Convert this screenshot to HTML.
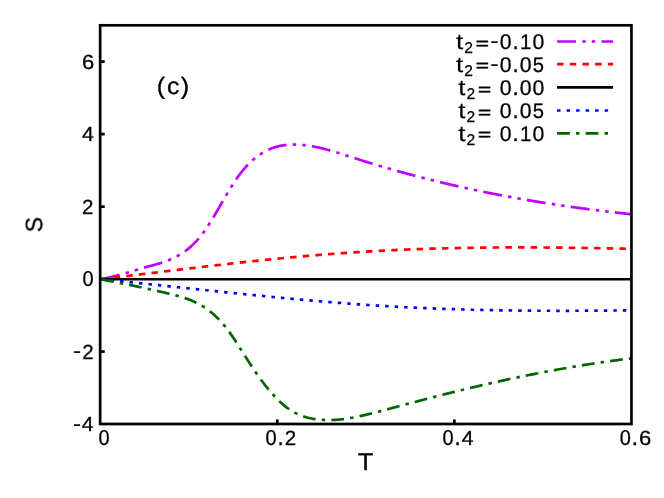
<!DOCTYPE html>
<html><head><meta charset="utf-8"><title>S vs T</title>
<style>
html,body{margin:0;padding:0;background:#fff;}
body{width:664px;height:498px;overflow:hidden;font-family:"Liberation Sans",sans-serif;}
svg{display:block}
text{font-family:"Liberation Sans",sans-serif;fill:#000;}
</style></head><body>
<svg width="664" height="498" viewBox="0 0 664 498">
<rect width="664" height="498" fill="#fff"/>

<g stroke="#000" stroke-width="2.7" fill="none">
<path d="M100.15,351.60 h4.6"/>
<path d="M100.15,279.20 h4.6"/>
<path d="M100.15,206.66 h4.6"/>
<path d="M100.15,134.11 h4.6"/>
<path d="M100.15,61.57 h4.6"/>
<path d="M277.25,424.0 v-4.6"/>
<path d="M454.35,424.0 v-4.6"/>
</g>
<g fill="none" stroke-width="2.7" stroke-linecap="butt" stroke-linejoin="round">
<path d="M100.15,279.20 L101.65,278.96 L103.15,278.70 L104.65,278.43 L106.15,278.13 L107.65,277.82 L109.15,277.50 L110.65,277.16 L112.15,276.80 L113.65,276.43 L115.15,276.05 L116.65,275.66 L118.15,275.26 L119.65,274.85 L121.15,274.43 L122.65,274.01 L124.15,273.58 L125.65,273.14 L127.15,272.70 L128.65,272.25 L130.15,271.80 L131.65,271.35 L133.15,270.90 L134.65,270.45 L136.15,270.01 L137.65,269.56 L139.15,269.12 L140.65,268.68 L142.15,268.24 L143.65,267.81 L145.15,267.39 L146.65,266.97 L148.15,266.56 L149.65,266.16 L151.15,265.75 L152.65,265.34 L154.15,264.93 L155.65,264.50 L157.15,264.07 L158.65,263.63 L160.15,263.17 L161.65,262.69 L163.15,262.20 L164.65,261.68 L166.15,261.14 L167.65,260.57 L169.15,259.98 L170.65,259.35 L172.15,258.69 L173.65,257.99 L175.15,257.25 L176.65,256.47 L178.15,255.64 L179.65,254.77 L181.15,253.86 L182.65,252.88 L184.15,251.86 L185.65,250.77 L187.15,249.63 L188.65,248.42 L190.15,247.14 L191.65,245.80 L193.15,244.38 L194.65,242.89 L196.15,241.32 L197.65,239.67 L199.15,237.93 L200.65,236.11 L202.15,234.20 L203.65,232.20 L205.15,230.10 L206.65,227.92 L208.15,225.66 L209.65,223.33 L211.15,220.94 L212.65,218.50 L214.15,216.01 L215.65,213.48 L217.15,210.92 L218.65,208.34 L220.15,205.75 L221.65,203.15 L223.15,200.56 L224.65,197.97 L226.15,195.41 L227.65,192.87 L229.15,190.37 L230.65,187.91 L232.15,185.50 L233.65,183.15 L235.15,180.86 L236.65,178.66 L238.15,176.53 L239.65,174.49 L241.15,172.54 L242.65,170.67 L244.15,168.87 L245.65,167.16 L247.15,165.53 L248.65,163.97 L250.15,162.48 L251.65,161.07 L253.15,159.72 L254.65,158.45 L256.15,157.25 L257.65,156.11 L259.15,155.04 L260.65,154.03 L262.15,153.08 L263.65,152.19 L265.15,151.36 L266.65,150.59 L268.15,149.87 L269.65,149.20 L271.15,148.59 L272.65,148.03 L274.15,147.52 L275.65,147.05 L277.15,146.63 L278.65,146.26 L280.15,145.92 L281.65,145.63 L283.15,145.38 L284.65,145.16 L286.15,144.98 L287.65,144.84 L289.15,144.73 L290.65,144.65 L292.15,144.60 L293.65,144.58 L295.15,144.59 L296.65,144.62 L298.15,144.67 L299.65,144.75 L301.15,144.86 L302.65,144.98 L304.15,145.13 L305.65,145.30 L307.15,145.49 L308.65,145.70 L310.15,145.93 L311.65,146.18 L313.15,146.45 L314.65,146.73 L316.15,147.03 L317.65,147.35 L319.15,147.68 L320.65,148.02 L322.15,148.38 L323.65,148.75 L325.15,149.14 L326.65,149.53 L328.15,149.94 L329.65,150.36 L331.15,150.78 L332.65,151.22 L334.15,151.66 L335.65,152.11 L337.15,152.57 L338.65,153.03 L340.15,153.50 L341.65,153.98 L343.15,154.45 L344.65,154.93 L346.15,155.42 L347.65,155.90 L349.15,156.39 L350.65,156.87 L352.15,157.36 L353.65,157.84 L355.15,158.33 L356.65,158.81 L358.15,159.29 L359.65,159.76 L361.15,160.24 L362.65,160.71 L364.15,161.18 L365.65,161.65 L367.15,162.11 L368.65,162.57 L370.15,163.04 L371.65,163.49 L373.15,163.95 L374.65,164.40 L376.15,164.86 L377.65,165.30 L379.15,165.75 L380.65,166.20 L382.15,166.64 L383.65,167.08 L385.15,167.52 L386.65,167.96 L388.15,168.39 L389.65,168.82 L391.15,169.25 L392.65,169.68 L394.15,170.10 L395.65,170.53 L397.15,170.95 L398.65,171.37 L400.15,171.79 L401.65,172.20 L403.15,172.61 L404.65,173.02 L406.15,173.43 L407.65,173.84 L409.15,174.24 L410.65,174.64 L412.15,175.04 L413.65,175.44 L415.15,175.84 L416.65,176.23 L418.15,176.62 L419.65,177.01 L421.15,177.40 L422.65,177.79 L424.15,178.17 L425.65,178.55 L427.15,178.93 L428.65,179.31 L430.15,179.69 L431.65,180.06 L433.15,180.43 L434.65,180.80 L436.15,181.17 L437.65,181.53 L439.15,181.90 L440.65,182.26 L442.15,182.62 L443.65,182.98 L445.15,183.33 L446.65,183.69 L448.15,184.04 L449.65,184.39 L451.15,184.74 L452.65,185.08 L454.15,185.43 L455.65,185.77 L457.15,186.11 L458.65,186.45 L460.15,186.78 L461.65,187.12 L463.15,187.45 L464.65,187.78 L466.15,188.11 L467.65,188.44 L469.15,188.76 L470.65,189.09 L472.15,189.41 L473.65,189.73 L475.15,190.05 L476.65,190.36 L478.15,190.68 L479.65,190.99 L481.15,191.30 L482.65,191.61 L484.15,191.92 L485.65,192.22 L487.15,192.52 L488.65,192.83 L490.15,193.13 L491.65,193.42 L493.15,193.72 L494.65,194.01 L496.15,194.31 L497.65,194.60 L499.15,194.89 L500.65,195.18 L502.15,195.46 L503.65,195.75 L505.15,196.03 L506.65,196.31 L508.15,196.59 L509.65,196.86 L511.15,197.14 L512.65,197.41 L514.15,197.69 L515.65,197.96 L517.15,198.23 L518.65,198.49 L520.15,198.76 L521.65,199.02 L523.15,199.28 L524.65,199.54 L526.15,199.80 L527.65,200.06 L529.15,200.32 L530.65,200.57 L532.15,200.82 L533.65,201.07 L535.15,201.32 L536.65,201.57 L538.15,201.82 L539.65,202.06 L541.15,202.30 L542.65,202.55 L544.15,202.79 L545.65,203.02 L547.15,203.26 L548.65,203.50 L550.15,203.73 L551.65,203.96 L553.15,204.19 L554.65,204.42 L556.15,204.65 L557.65,204.87 L559.15,205.10 L560.65,205.32 L562.15,205.54 L563.65,205.76 L565.15,205.98 L566.65,206.20 L568.15,206.41 L569.65,206.63 L571.15,206.84 L572.65,207.05 L574.15,207.26 L575.65,207.47 L577.15,207.68 L578.65,207.88 L580.15,208.08 L581.65,208.29 L583.15,208.49 L584.65,208.69 L586.15,208.89 L587.65,209.08 L589.15,209.28 L590.65,209.47 L592.15,209.67 L593.65,209.86 L595.15,210.05 L596.65,210.24 L598.15,210.42 L599.65,210.61 L601.15,210.79 L602.65,210.98 L604.15,211.16 L605.65,211.34 L607.15,211.52 L608.65,211.70 L610.15,211.87 L611.65,212.05 L613.15,212.22 L614.65,212.39 L616.15,212.57 L617.65,212.74 L619.15,212.90 L620.65,213.07 L622.15,213.24 L623.65,213.40 L625.15,213.57 L626.65,213.73 L628.15,213.89 L629.65,214.05 L631.15,214.21 L631.45,214.24" stroke="#bf00ff" stroke-dasharray="18.92,6.24,3.47,6.04,3.47,6.24" stroke-dashoffset="-1.0"/>
<path d="M100.15,279.20 L101.65,279.02 L103.15,278.85 L104.65,278.67 L106.15,278.50 L107.65,278.32 L109.15,278.14 L110.65,277.97 L112.15,277.79 L113.65,277.61 L115.15,277.43 L116.65,277.25 L118.15,277.07 L119.65,276.89 L121.15,276.71 L122.65,276.53 L124.15,276.35 L125.65,276.17 L127.15,275.99 L128.65,275.81 L130.15,275.63 L131.65,275.45 L133.15,275.27 L134.65,275.09 L136.15,274.91 L137.65,274.72 L139.15,274.54 L140.65,274.36 L142.15,274.18 L143.65,274.00 L145.15,273.81 L146.65,273.63 L148.15,273.45 L149.65,273.27 L151.15,273.08 L152.65,272.90 L154.15,272.72 L155.65,272.54 L157.15,272.35 L158.65,272.17 L160.15,271.99 L161.65,271.81 L163.15,271.62 L164.65,271.44 L166.15,271.26 L167.65,271.08 L169.15,270.89 L170.65,270.71 L172.15,270.53 L173.65,270.35 L175.15,270.17 L176.65,269.98 L178.15,269.80 L179.65,269.62 L181.15,269.44 L182.65,269.26 L184.15,269.08 L185.65,268.90 L187.15,268.72 L188.65,268.54 L190.15,268.36 L191.65,268.18 L193.15,268.00 L194.65,267.82 L196.15,267.64 L197.65,267.46 L199.15,267.28 L200.65,267.10 L202.15,266.93 L203.65,266.75 L205.15,266.57 L206.65,266.40 L208.15,266.22 L209.65,266.04 L211.15,265.87 L212.65,265.69 L214.15,265.52 L215.65,265.34 L217.15,265.17 L218.65,265.00 L220.15,264.82 L221.65,264.65 L223.15,264.48 L224.65,264.31 L226.15,264.14 L227.65,263.97 L229.15,263.80 L230.65,263.63 L232.15,263.46 L233.65,263.29 L235.15,263.12 L236.65,262.95 L238.15,262.79 L239.65,262.62 L241.15,262.45 L242.65,262.29 L244.15,262.13 L245.65,261.96 L247.15,261.80 L248.65,261.64 L250.15,261.47 L251.65,261.31 L253.15,261.15 L254.65,260.99 L256.15,260.83 L257.65,260.68 L259.15,260.52 L260.65,260.36 L262.15,260.21 L263.65,260.05 L265.15,259.90 L266.65,259.74 L268.15,259.59 L269.65,259.44 L271.15,259.29 L272.65,259.14 L274.15,258.99 L275.65,258.84 L277.15,258.69 L278.65,258.54 L280.15,258.40 L281.65,258.25 L283.15,258.11 L284.65,257.96 L286.15,257.82 L287.65,257.68 L289.15,257.54 L290.65,257.40 L292.15,257.26 L293.65,257.12 L295.15,256.99 L296.65,256.85 L298.15,256.71 L299.65,256.58 L301.15,256.45 L302.65,256.31 L304.15,256.18 L305.65,256.05 L307.15,255.92 L308.65,255.79 L310.15,255.67 L311.65,255.54 L313.15,255.41 L314.65,255.29 L316.15,255.16 L317.65,255.04 L319.15,254.92 L320.65,254.80 L322.15,254.68 L323.65,254.56 L325.15,254.44 L326.65,254.32 L328.15,254.21 L329.65,254.09 L331.15,253.98 L332.65,253.87 L334.15,253.75 L335.65,253.64 L337.15,253.53 L338.65,253.42 L340.15,253.32 L341.65,253.21 L343.15,253.10 L344.65,253.00 L346.15,252.89 L347.65,252.79 L349.15,252.69 L350.65,252.59 L352.15,252.49 L353.65,252.39 L355.15,252.29 L356.65,252.19 L358.15,252.10 L359.65,252.00 L361.15,251.91 L362.65,251.81 L364.15,251.72 L365.65,251.63 L367.15,251.54 L368.65,251.45 L370.15,251.37 L371.65,251.28 L373.15,251.19 L374.65,251.11 L376.15,251.03 L377.65,250.95 L379.15,250.86 L380.65,250.78 L382.15,250.71 L383.65,250.63 L385.15,250.55 L386.65,250.47 L388.15,250.40 L389.65,250.33 L391.15,250.25 L392.65,250.18 L394.15,250.11 L395.65,250.04 L397.15,249.97 L398.65,249.91 L400.15,249.84 L401.65,249.78 L403.15,249.71 L404.65,249.65 L406.15,249.59 L407.65,249.52 L409.15,249.46 L410.65,249.40 L412.15,249.35 L413.65,249.29 L415.15,249.23 L416.65,249.18 L418.15,249.12 L419.65,249.07 L421.15,249.02 L422.65,248.96 L424.15,248.91 L425.65,248.86 L427.15,248.82 L428.65,248.77 L430.15,248.72 L431.65,248.67 L433.15,248.63 L434.65,248.59 L436.15,248.54 L437.65,248.50 L439.15,248.46 L440.65,248.42 L442.15,248.38 L443.65,248.34 L445.15,248.30 L446.65,248.26 L448.15,248.23 L449.65,248.19 L451.15,248.16 L452.65,248.13 L454.15,248.09 L455.65,248.06 L457.15,248.03 L458.65,248.00 L460.15,247.97 L461.65,247.94 L463.15,247.91 L464.65,247.89 L466.15,247.86 L467.65,247.84 L469.15,247.81 L470.65,247.79 L472.15,247.77 L473.65,247.74 L475.15,247.72 L476.65,247.70 L478.15,247.68 L479.65,247.66 L481.15,247.64 L482.65,247.63 L484.15,247.61 L485.65,247.59 L487.15,247.58 L488.65,247.57 L490.15,247.55 L491.65,247.54 L493.15,247.53 L494.65,247.51 L496.15,247.50 L497.65,247.49 L499.15,247.48 L500.65,247.48 L502.15,247.47 L503.65,247.46 L505.15,247.45 L506.65,247.45 L508.15,247.44 L509.65,247.44 L511.15,247.44 L512.65,247.43 L514.15,247.43 L515.65,247.43 L517.15,247.43 L518.65,247.43 L520.15,247.43 L521.65,247.43 L523.15,247.43 L524.65,247.43 L526.15,247.43 L527.65,247.44 L529.15,247.44 L530.65,247.44 L532.15,247.45 L533.65,247.46 L535.15,247.46 L536.65,247.47 L538.15,247.48 L539.65,247.48 L541.15,247.49 L542.65,247.50 L544.15,247.51 L545.65,247.52 L547.15,247.53 L548.65,247.55 L550.15,247.56 L551.65,247.57 L553.15,247.58 L554.65,247.60 L556.15,247.61 L557.65,247.63 L559.15,247.64 L560.65,247.66 L562.15,247.67 L563.65,247.69 L565.15,247.71 L566.65,247.72 L568.15,247.74 L569.65,247.76 L571.15,247.78 L572.65,247.80 L574.15,247.82 L575.65,247.84 L577.15,247.86 L578.65,247.88 L580.15,247.91 L581.65,247.93 L583.15,247.95 L584.65,247.98 L586.15,248.00 L587.65,248.02 L589.15,248.05 L590.65,248.07 L592.15,248.10 L593.65,248.12 L595.15,248.15 L596.65,248.18 L598.15,248.20 L599.65,248.23 L601.15,248.26 L602.65,248.29 L604.15,248.32 L605.65,248.35 L607.15,248.38 L608.65,248.41 L610.15,248.44 L611.65,248.47 L613.15,248.50 L614.65,248.53 L616.15,248.56 L617.65,248.59 L619.15,248.62 L620.65,248.66 L622.15,248.69 L623.65,248.72 L625.15,248.76 L626.65,248.79 L628.15,248.82 L629.65,248.86 L631.15,248.89 L631.45,248.90" stroke="#ff0000" stroke-dasharray="6.49,6.19" stroke-dashoffset="-1.0"/>
<path d="M100.15,279.2 L631.45,279.2" stroke="#000000" stroke-width="2.45"/>
<path d="M100.15,279.20 L101.65,279.35 L103.15,279.50 L104.65,279.64 L106.15,279.79 L107.65,279.94 L109.15,280.09 L110.65,280.24 L112.15,280.39 L113.65,280.54 L115.15,280.69 L116.65,280.84 L118.15,280.99 L119.65,281.15 L121.15,281.30 L122.65,281.45 L124.15,281.60 L125.65,281.76 L127.15,281.91 L128.65,282.06 L130.15,282.22 L131.65,282.37 L133.15,282.53 L134.65,282.68 L136.15,282.84 L137.65,282.99 L139.15,283.15 L140.65,283.30 L142.15,283.46 L143.65,283.61 L145.15,283.77 L146.65,283.93 L148.15,284.08 L149.65,284.24 L151.15,284.40 L152.65,284.55 L154.15,284.71 L155.65,284.87 L157.15,285.03 L158.65,285.18 L160.15,285.34 L161.65,285.50 L163.15,285.66 L164.65,285.82 L166.15,285.97 L167.65,286.13 L169.15,286.29 L170.65,286.45 L172.15,286.61 L173.65,286.77 L175.15,286.93 L176.65,287.08 L178.15,287.24 L179.65,287.40 L181.15,287.56 L182.65,287.72 L184.15,287.88 L185.65,288.04 L187.15,288.19 L188.65,288.35 L190.15,288.51 L191.65,288.67 L193.15,288.83 L194.65,288.99 L196.15,289.15 L197.65,289.31 L199.15,289.46 L200.65,289.62 L202.15,289.78 L203.65,289.94 L205.15,290.10 L206.65,290.25 L208.15,290.41 L209.65,290.57 L211.15,290.73 L212.65,290.88 L214.15,291.04 L215.65,291.20 L217.15,291.36 L218.65,291.51 L220.15,291.67 L221.65,291.82 L223.15,291.98 L224.65,292.14 L226.15,292.29 L227.65,292.45 L229.15,292.60 L230.65,292.76 L232.15,292.91 L233.65,293.07 L235.15,293.22 L236.65,293.38 L238.15,293.53 L239.65,293.68 L241.15,293.84 L242.65,293.99 L244.15,294.14 L245.65,294.30 L247.15,294.45 L248.65,294.60 L250.15,294.75 L251.65,294.90 L253.15,295.05 L254.65,295.20 L256.15,295.35 L257.65,295.50 L259.15,295.65 L260.65,295.80 L262.15,295.95 L263.65,296.10 L265.15,296.24 L266.65,296.39 L268.15,296.54 L269.65,296.68 L271.15,296.83 L272.65,296.98 L274.15,297.12 L275.65,297.27 L277.15,297.41 L278.65,297.55 L280.15,297.70 L281.65,297.84 L283.15,297.98 L284.65,298.12 L286.15,298.27 L287.65,298.41 L289.15,298.55 L290.65,298.69 L292.15,298.82 L293.65,298.96 L295.15,299.10 L296.65,299.24 L298.15,299.38 L299.65,299.51 L301.15,299.65 L302.65,299.78 L304.15,299.92 L305.65,300.05 L307.15,300.18 L308.65,300.32 L310.15,300.45 L311.65,300.58 L313.15,300.71 L314.65,300.84 L316.15,300.97 L317.65,301.10 L319.15,301.23 L320.65,301.35 L322.15,301.48 L323.65,301.61 L325.15,301.73 L326.65,301.86 L328.15,301.98 L329.65,302.10 L331.15,302.23 L332.65,302.35 L334.15,302.47 L335.65,302.59 L337.15,302.71 L338.65,302.83 L340.15,302.94 L341.65,303.06 L343.15,303.18 L344.65,303.29 L346.15,303.41 L347.65,303.52 L349.15,303.63 L350.65,303.75 L352.15,303.86 L353.65,303.97 L355.15,304.08 L356.65,304.19 L358.15,304.29 L359.65,304.40 L361.15,304.51 L362.65,304.61 L364.15,304.72 L365.65,304.82 L367.15,304.92 L368.65,305.02 L370.15,305.12 L371.65,305.22 L373.15,305.32 L374.65,305.42 L376.15,305.52 L377.65,305.61 L379.15,305.71 L380.65,305.80 L382.15,305.89 L383.65,305.99 L385.15,306.08 L386.65,306.17 L388.15,306.26 L389.65,306.34 L391.15,306.43 L392.65,306.52 L394.15,306.60 L395.65,306.68 L397.15,306.77 L398.65,306.85 L400.15,306.93 L401.65,307.01 L403.15,307.09 L404.65,307.17 L406.15,307.24 L407.65,307.32 L409.15,307.39 L410.65,307.47 L412.15,307.54 L413.65,307.61 L415.15,307.68 L416.65,307.75 L418.15,307.82 L419.65,307.89 L421.15,307.96 L422.65,308.03 L424.15,308.09 L425.65,308.16 L427.15,308.22 L428.65,308.28 L430.15,308.34 L431.65,308.41 L433.15,308.47 L434.65,308.53 L436.15,308.58 L437.65,308.64 L439.15,308.70 L440.65,308.75 L442.15,308.81 L443.65,308.86 L445.15,308.92 L446.65,308.97 L448.15,309.02 L449.65,309.07 L451.15,309.12 L452.65,309.17 L454.15,309.22 L455.65,309.26 L457.15,309.31 L458.65,309.36 L460.15,309.40 L461.65,309.45 L463.15,309.49 L464.65,309.53 L466.15,309.57 L467.65,309.61 L469.15,309.65 L470.65,309.69 L472.15,309.73 L473.65,309.77 L475.15,309.81 L476.65,309.84 L478.15,309.88 L479.65,309.91 L481.15,309.95 L482.65,309.98 L484.15,310.01 L485.65,310.04 L487.15,310.08 L488.65,310.11 L490.15,310.14 L491.65,310.16 L493.15,310.19 L494.65,310.22 L496.15,310.25 L497.65,310.27 L499.15,310.30 L500.65,310.32 L502.15,310.35 L503.65,310.37 L505.15,310.39 L506.65,310.41 L508.15,310.44 L509.65,310.46 L511.15,310.48 L512.65,310.50 L514.15,310.51 L515.65,310.53 L517.15,310.55 L518.65,310.57 L520.15,310.58 L521.65,310.60 L523.15,310.61 L524.65,310.63 L526.15,310.64 L527.65,310.65 L529.15,310.66 L530.65,310.68 L532.15,310.69 L533.65,310.70 L535.15,310.71 L536.65,310.72 L538.15,310.73 L539.65,310.73 L541.15,310.74 L542.65,310.75 L544.15,310.75 L545.65,310.76 L547.15,310.77 L548.65,310.77 L550.15,310.77 L551.65,310.78 L553.15,310.78 L554.65,310.78 L556.15,310.79 L557.65,310.79 L559.15,310.79 L560.65,310.79 L562.15,310.79 L563.65,310.79 L565.15,310.79 L566.65,310.78 L568.15,310.78 L569.65,310.78 L571.15,310.78 L572.65,310.77 L574.15,310.77 L575.65,310.76 L577.15,310.76 L578.65,310.75 L580.15,310.75 L581.65,310.74 L583.15,310.73 L584.65,310.73 L586.15,310.72 L587.65,310.71 L589.15,310.70 L590.65,310.69 L592.15,310.68 L593.65,310.67 L595.15,310.66 L596.65,310.65 L598.15,310.64 L599.65,310.63 L601.15,310.62 L602.65,310.61 L604.15,310.59 L605.65,310.58 L607.15,310.57 L608.65,310.55 L610.15,310.54 L611.65,310.52 L613.15,310.51 L614.65,310.49 L616.15,310.48 L617.65,310.46 L619.15,310.44 L620.65,310.43 L622.15,310.41 L623.65,310.39 L625.15,310.37 L626.65,310.36 L628.15,310.34 L629.65,310.32 L631.15,310.30 L631.45,310.30" stroke="#0000ff" stroke-dasharray="3.47,6.04" stroke-dashoffset="-1.0"/>
<path d="M100.15,279.20 L101.65,279.48 L103.15,279.77 L104.65,280.05 L106.15,280.34 L107.65,280.63 L109.15,280.91 L110.65,281.20 L112.15,281.49 L113.65,281.78 L115.15,282.08 L116.65,282.37 L118.15,282.67 L119.65,282.96 L121.15,283.26 L122.65,283.56 L124.15,283.86 L125.65,284.16 L127.15,284.46 L128.65,284.77 L130.15,285.07 L131.65,285.38 L133.15,285.69 L134.65,286.00 L136.15,286.32 L137.65,286.63 L139.15,286.95 L140.65,287.27 L142.15,287.59 L143.65,287.91 L145.15,288.23 L146.65,288.56 L148.15,288.89 L149.65,289.22 L151.15,289.55 L152.65,289.89 L154.15,290.23 L155.65,290.57 L157.15,290.91 L158.65,291.26 L160.15,291.60 L161.65,291.95 L163.15,292.31 L164.65,292.66 L166.15,293.02 L167.65,293.38 L169.15,293.74 L170.65,294.11 L172.15,294.48 L173.65,294.86 L175.15,295.24 L176.65,295.64 L178.15,296.05 L179.65,296.47 L181.15,296.91 L182.65,297.37 L184.15,297.85 L185.65,298.35 L187.15,298.87 L188.65,299.43 L190.15,300.01 L191.65,300.62 L193.15,301.26 L194.65,301.94 L196.15,302.66 L197.65,303.41 L199.15,304.21 L200.65,305.05 L202.15,305.93 L203.65,306.86 L205.15,307.84 L206.65,308.87 L208.15,309.95 L209.65,311.08 L211.15,312.28 L212.65,313.53 L214.15,314.84 L215.65,316.22 L217.15,317.66 L218.65,319.17 L220.15,320.74 L221.65,322.39 L223.15,324.11 L224.65,325.90 L226.15,327.78 L227.65,329.73 L229.15,331.76 L230.65,333.87 L232.15,336.06 L233.65,338.30 L235.15,340.58 L236.65,342.89 L238.15,345.21 L239.65,347.53 L241.15,349.87 L242.65,352.22 L244.15,354.58 L245.65,356.94 L247.15,359.29 L248.65,361.64 L250.15,363.96 L251.65,366.26 L253.15,368.53 L254.65,370.76 L256.15,372.94 L257.65,375.09 L259.15,377.20 L260.65,379.27 L262.15,381.30 L263.65,383.28 L265.15,385.22 L266.65,387.11 L268.15,388.96 L269.65,390.76 L271.15,392.51 L272.65,394.22 L274.15,395.87 L275.65,397.47 L277.15,399.01 L278.65,400.50 L280.15,401.94 L281.65,403.31 L283.15,404.63 L284.65,405.88 L286.15,407.07 L287.65,408.20 L289.15,409.26 L290.65,410.26 L292.15,411.19 L293.65,412.07 L295.15,412.88 L296.65,413.63 L298.15,414.34 L299.65,414.99 L301.15,415.58 L302.65,416.13 L304.15,416.64 L305.65,417.10 L307.15,417.52 L308.65,417.90 L310.15,418.24 L311.65,418.55 L313.15,418.83 L314.65,419.07 L316.15,419.29 L317.65,419.48 L319.15,419.64 L320.65,419.78 L322.15,419.89 L323.65,419.97 L325.15,420.04 L326.65,420.07 L328.15,420.09 L329.65,420.08 L331.15,420.06 L332.65,420.01 L334.15,419.94 L335.65,419.85 L337.15,419.74 L338.65,419.61 L340.15,419.47 L341.65,419.31 L343.15,419.13 L344.65,418.93 L346.15,418.72 L347.65,418.50 L349.15,418.26 L350.65,418.00 L352.15,417.74 L353.65,417.46 L355.15,417.17 L356.65,416.87 L358.15,416.56 L359.65,416.24 L361.15,415.91 L362.65,415.57 L364.15,415.22 L365.65,414.87 L367.15,414.51 L368.65,414.14 L370.15,413.77 L371.65,413.40 L373.15,413.02 L374.65,412.63 L376.15,412.24 L377.65,411.86 L379.15,411.46 L380.65,411.07 L382.15,410.68 L383.65,410.29 L385.15,409.89 L386.65,409.50 L388.15,409.10 L389.65,408.70 L391.15,408.31 L392.65,407.91 L394.15,407.51 L395.65,407.12 L397.15,406.72 L398.65,406.32 L400.15,405.92 L401.65,405.52 L403.15,405.12 L404.65,404.72 L406.15,404.32 L407.65,403.93 L409.15,403.53 L410.65,403.13 L412.15,402.73 L413.65,402.33 L415.15,401.94 L416.65,401.54 L418.15,401.14 L419.65,400.75 L421.15,400.35 L422.65,399.96 L424.15,399.56 L425.65,399.17 L427.15,398.78 L428.65,398.38 L430.15,397.99 L431.65,397.60 L433.15,397.22 L434.65,396.83 L436.15,396.44 L437.65,396.06 L439.15,395.67 L440.65,395.29 L442.15,394.91 L443.65,394.53 L445.15,394.15 L446.65,393.77 L448.15,393.39 L449.65,393.02 L451.15,392.64 L452.65,392.27 L454.15,391.90 L455.65,391.53 L457.15,391.16 L458.65,390.79 L460.15,390.42 L461.65,390.05 L463.15,389.69 L464.65,389.33 L466.15,388.96 L467.65,388.60 L469.15,388.24 L470.65,387.89 L472.15,387.53 L473.65,387.17 L475.15,386.82 L476.65,386.47 L478.15,386.11 L479.65,385.76 L481.15,385.41 L482.65,385.07 L484.15,384.72 L485.65,384.38 L487.15,384.03 L488.65,383.69 L490.15,383.35 L491.65,383.01 L493.15,382.67 L494.65,382.33 L496.15,382.00 L497.65,381.67 L499.15,381.33 L500.65,381.00 L502.15,380.67 L503.65,380.34 L505.15,380.02 L506.65,379.69 L508.15,379.37 L509.65,379.05 L511.15,378.73 L512.65,378.41 L514.15,378.09 L515.65,377.77 L517.15,377.46 L518.65,377.14 L520.15,376.83 L521.65,376.52 L523.15,376.21 L524.65,375.91 L526.15,375.60 L527.65,375.30 L529.15,374.99 L530.65,374.69 L532.15,374.39 L533.65,374.09 L535.15,373.80 L536.65,373.50 L538.15,373.21 L539.65,372.92 L541.15,372.63 L542.65,372.34 L544.15,372.05 L545.65,371.77 L547.15,371.48 L548.65,371.20 L550.15,370.92 L551.65,370.64 L553.15,370.37 L554.65,370.09 L556.15,369.82 L557.65,369.54 L559.15,369.27 L560.65,369.00 L562.15,368.74 L563.65,368.47 L565.15,368.21 L566.65,367.95 L568.15,367.69 L569.65,367.43 L571.15,367.17 L572.65,366.92 L574.15,366.66 L575.65,366.41 L577.15,366.16 L578.65,365.91 L580.15,365.67 L581.65,365.42 L583.15,365.18 L584.65,364.94 L586.15,364.70 L587.65,364.46 L589.15,364.23 L590.65,363.99 L592.15,363.76 L593.65,363.53 L595.15,363.30 L596.65,363.08 L598.15,362.85 L599.65,362.63 L601.15,362.41 L602.65,362.19 L604.15,361.97 L605.65,361.76 L607.15,361.54 L608.65,361.33 L610.15,361.12 L611.65,360.91 L613.15,360.71 L614.65,360.50 L616.15,360.30 L617.65,360.10 L619.15,359.90 L620.65,359.71 L622.15,359.51 L623.65,359.32 L625.15,359.13 L626.65,358.94 L628.15,358.75 L629.65,358.57 L631.15,358.39 L631.45,358.35" stroke="#006400" stroke-dasharray="12.78,6.14,3.47,6.14" stroke-dashoffset="-1.0"/>
</g>
<rect x="100.15" y="25.3" width="531.30" height="398.70" stroke="#000" stroke-width="2.7" fill="none"/>
<g fill="none" stroke-width="2.7">
<path d="M557.1,41.5 L613.1,41.5" stroke="#bf00ff" stroke-dasharray="18.92,6.24,3.47,6.04,3.47,6.24"/>
<path d="M557.1,64.2 L613.1,64.2" stroke="#ff0000" stroke-dasharray="6.49,6.19"/>
<path d="M557.1,87.4 L613.1,87.4" stroke="#000000"/>
<path d="M557.1,110.5 L613.1,110.5" stroke="#0000ff" stroke-dasharray="3.47,6.04"/>
<path d="M557.1,133.3 L613.1,133.3" stroke="#006400" stroke-dasharray="12.78,6.14,3.47,6.14"/>
</g>
<g opacity="0.999" style="text-rendering:geometricPrecision" stroke="#000" stroke-width="0.3" stroke-linejoin="round">
<text transform="translate(73.08,429.85) scale(1.340,1)" font-size="18.0">-</text>
<text transform="translate(81.70,431.25) scale(1.038,1)" font-size="20.5">4</text>
<text transform="translate(73.08,357.05) scale(1.340,1)" font-size="18.0">-</text>
<text transform="translate(82.22,358.65) scale(1.002,1)" font-size="20.5">2</text>
<text transform="translate(82.53,286.25) scale(0.935,1)" font-size="21.4">0</text>
<text transform="translate(82.12,213.96) scale(1.002,1)" font-size="20.5">2</text>
<text transform="translate(81.95,141.11) scale(1.038,1)" font-size="20.5">4</text>
<text transform="translate(82.00,68.87) scale(1.070,1)" font-size="20.5">6</text>
<text transform="translate(98.43,445.40) scale(0.935,1)" font-size="21.4">0</text>
<text transform="translate(265.43,445.40) scale(0.935,1)" font-size="21.4">0</text>
<text transform="translate(277.45,445.30) scale(0.950,1)" font-size="23.5">.</text>
<text transform="translate(284.87,445.30) scale(1.002,1)" font-size="20.5">2</text>
<text transform="translate(442.53,445.40) scale(0.935,1)" font-size="21.4">0</text>
<text transform="translate(454.55,445.30) scale(0.950,1)" font-size="23.5">.</text>
<text transform="translate(461.80,445.30) scale(1.038,1)" font-size="20.5">4</text>
<text transform="translate(619.63,445.40) scale(0.935,1)" font-size="21.4">0</text>
<text transform="translate(631.65,445.30) scale(0.950,1)" font-size="23.5">.</text>
<text transform="translate(638.95,445.30) scale(1.070,1)" font-size="20.5">6</text>
<text transform="translate(357.82,469.50) scale(1.050,1)" font-size="24.3">T</text>
<text transform="translate(42.15,232.34) rotate(-90) scale(0.963,1)" font-size="23.8">S</text>
<text transform="translate(156.71,93.95) scale(1.060,1)" font-size="23.7">(</text>
<text transform="translate(166.90,94.30) scale(1.055,1)" font-size="23.5">c</text>
<text transform="translate(180.68,93.95) scale(1.060,1)" font-size="23.7">)</text>
<text transform="translate(455.91,48.90) scale(1.200,1)" font-size="21.8" stroke-width="0.1">t</text>
<text transform="translate(464.26,53.20) scale(1.000,1)" font-size="15.6">2</text>
<text transform="translate(475.70,48.65) scale(1.360,1)" font-size="16.5" stroke-width="0.6">=</text>
<text transform="translate(490.48,47.35) scale(1.340,1)" font-size="18.0">-</text>
<text transform="translate(499.68,48.90) scale(1.004,1)" font-size="21.2">0</text>
<text transform="translate(512.40,48.90) scale(0.950,1)" font-size="23.5">.</text>
<text transform="translate(519.97,48.90) scale(0.963,1)" font-size="21.2">1</text>
<text transform="translate(532.48,48.90) scale(1.004,1)" font-size="21.2">0</text>
<text transform="translate(455.91,71.60) scale(1.200,1)" font-size="21.8" stroke-width="0.1">t</text>
<text transform="translate(464.26,75.90) scale(1.000,1)" font-size="15.6">2</text>
<text transform="translate(475.70,71.35) scale(1.360,1)" font-size="16.5" stroke-width="0.6">=</text>
<text transform="translate(490.48,70.05) scale(1.340,1)" font-size="18.0">-</text>
<text transform="translate(499.68,71.60) scale(1.004,1)" font-size="21.2">0</text>
<text transform="translate(512.40,71.60) scale(0.950,1)" font-size="23.5">.</text>
<text transform="translate(519.83,71.60) scale(1.004,1)" font-size="21.2">0</text>
<text transform="translate(532.70,71.60) scale(0.953,1)" font-size="21.2">5</text>
<text transform="translate(458.26,94.80) scale(1.200,1)" font-size="21.8" stroke-width="0.1">t</text>
<text transform="translate(466.61,99.10) scale(1.000,1)" font-size="15.6">2</text>
<text transform="translate(478.05,94.55) scale(1.360,1)" font-size="16.5" stroke-width="0.6">=</text>
<text transform="translate(499.68,94.80) scale(1.004,1)" font-size="21.2">0</text>
<text transform="translate(512.40,94.80) scale(0.950,1)" font-size="23.5">.</text>
<text transform="translate(519.83,94.80) scale(1.004,1)" font-size="21.2">0</text>
<text transform="translate(532.48,94.80) scale(1.004,1)" font-size="21.2">0</text>
<text transform="translate(458.26,117.90) scale(1.200,1)" font-size="21.8" stroke-width="0.1">t</text>
<text transform="translate(466.61,122.20) scale(1.000,1)" font-size="15.6">2</text>
<text transform="translate(478.05,117.65) scale(1.360,1)" font-size="16.5" stroke-width="0.6">=</text>
<text transform="translate(499.68,117.90) scale(1.004,1)" font-size="21.2">0</text>
<text transform="translate(512.40,117.90) scale(0.950,1)" font-size="23.5">.</text>
<text transform="translate(519.83,117.90) scale(1.004,1)" font-size="21.2">0</text>
<text transform="translate(532.70,117.90) scale(0.953,1)" font-size="21.2">5</text>
<text transform="translate(458.26,140.70) scale(1.200,1)" font-size="21.8" stroke-width="0.1">t</text>
<text transform="translate(466.61,145.00) scale(1.000,1)" font-size="15.6">2</text>
<text transform="translate(478.05,140.45) scale(1.360,1)" font-size="16.5" stroke-width="0.6">=</text>
<text transform="translate(499.68,140.70) scale(1.004,1)" font-size="21.2">0</text>
<text transform="translate(512.40,140.70) scale(0.950,1)" font-size="23.5">.</text>
<text transform="translate(519.97,140.70) scale(0.963,1)" font-size="21.2">1</text>
<text transform="translate(532.48,140.70) scale(1.004,1)" font-size="21.2">0</text>
</g>
</svg></body></html>
